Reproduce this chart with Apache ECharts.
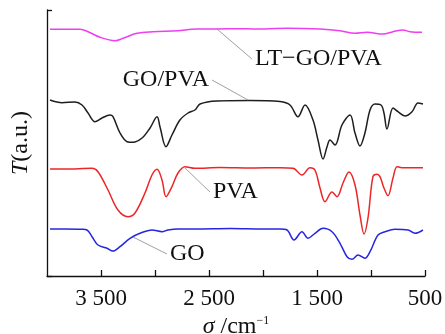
<!DOCTYPE html>
<html>
<head>
<meta charset="utf-8">
<script src="https://cdn.jsdelivr.net/npm/echarts@6/dist/echarts.min.js"></script>
<style>
  html, body { margin: 0; padding: 0; background: #fff; }
  #main { width: 445px; height: 334px; }
</style>
</head>
<body>
<div id="main"></div>
<script>
// wavenumber (cm-1), transmittance offset (a.u.)
const ltGoPva = [[3972,246.7],[3694,246.7],[3620,244.3],[3509,238.7],[3370,235.3],[3296,237.7],[3167,242.7],[3019,244.3],[2796,245.3],[2611,247],[2426,247],[2213,247.3],[2093,247],[1778,247.7],[1472,247],[1287,245.3],[1148,242.7],[1037,243.7],[889,242],[796,244.3],[704,246],[639,244.3],[528,243.7]];
const goPva = [[3972,176],[3861,173.3],[3741,174],[3676,171],[3620,163],[3556,154.3],[3491,158],[3417,161],[3389,159.3],[3324,143],[3259,134.3],[3204,133.7],[3120,138],[3046,148],[2981,159.3],[2954,149.3],[2898,129.3],[2843,141],[2769,156],[2694,163],[2630,166],[2583,172],[2426,175],[2120,175.5],[1843,174.5],[1750,171],[1676,159.3],[1611,171],[1537,156],[1491,136],[1444,117],[1407,129.3],[1380,136],[1333,131],[1269,151],[1194,161],[1148,143],[1102,130],[1056,143],[1009,166],[963,172],[907,171],[880,163],[852,147],[796,168],[750,164.3],[685,160],[620,164.3],[565,173],[519,172]];
const pva = [[3972,107],[3833,107],[3583,107.7],[3528,104.3],[3435,86],[3343,66],[3250,59.3],[3185,63],[3093,83],[3028,101],[2981,106.7],[2935,96],[2898,79.3],[2843,89.3],[2787,103],[2722,109.3],[2630,107.7],[2400,108.5],[2100,108],[1843,108.3],[1722,107.7],[1639,101],[1565,108.3],[1519,106],[1472,88],[1426,74.3],[1361,84],[1315,79.3],[1259,93],[1204,104],[1148,91],[1102,61],[1065,42],[1028,58],[982,99.3],[944,101.7],[917,99.3],[880,88],[843,80.3],[796,98],[759,109.3],[713,108.3],[519,108.3]];
const go = [[3972,47],[3833,47],[3676,46.7],[3630,46],[3583,39.3],[3528,31],[3444,27.7],[3389,25],[3324,29.3],[3231,37.7],[3139,42.7],[3028,46],[2935,44.3],[2880,46],[2787,47],[2630,47],[2300,47.5],[2000,47],[1843,47],[1778,46],[1713,36],[1639,44.3],[1583,37.7],[1519,42.7],[1444,47.7],[1361,44.3],[1287,32.7],[1222,19.3],[1176,16.7],[1120,21],[1056,17.7],[1009,24.3],[935,41],[870,44.3],[778,46.7],[657,46],[593,42.7],[519,46]];
const tickLabels = { 3500: '3 500', 2500: '2 500', 1500: '1 500', 500: '500' };

const serif = '"Liberation Serif", "DejaVu Serif", serif';

// leader line: from point on curve to label anchor
function note(name, from, to, align) {
  return {
    markLine: {
      silent: true,
      symbol: 'none',
      label: { show: false },
      lineStyle: { color: '#888', width: 0.8, type: 'solid' },
      data: [[{ coord: from }, { coord: to }]]
    },
    markPoint: {
      silent: true,
      symbol: 'circle',
      symbolSize: 0,
      data: [{ coord: to }],
      label: {
        show: true,
        formatter: name,
        position: align === 'right' ? 'left' : 'right',
        distance: 3,
        color: '#111',
        fontFamily: serif,
        fontSize: 24
      }
    }
  };
}

function line(name, data, color, extra) {
  return Object.assign({
    name: name,
    type: 'line',
    data: data,
    smooth: 0.35,
    showSymbol: false,
    lineStyle: { color: color, width: 1.5 },
    itemStyle: { color: color }
  }, extra);
}

const myChart = echarts.init(document.getElementById('main'), null, { renderer: 'canvas' });
myChart.setOption({
  animation: false,
  grid: { left: 47, right: 20, top: 10, bottom: 58, outerBoundsMode: 'none' },
  xAxis: {
    type: 'value',
    inverse: true,
    min: 500,
    max: 4000,
    interval: 500,
    name: '{i|σ} /cm{s|−1}',
    nameLocation: 'middle',
    nameGap: 33,
    nameTextStyle: {
      color: '#111',
      fontFamily: serif,
      fontSize: 24,
      rich: {
        i: { fontStyle: 'italic', fontFamily: serif, fontSize: 24 },
        s: { fontFamily: serif, fontSize: 12, verticalAlign: 'top', padding: [0, 0, 10, 0] }
      }
    },
    axisLine: { lineStyle: { color: '#111', width: 1.3 } },
    axisTick: { inside: true, length: 6, lineStyle: { color: '#111', width: 1.3 } },
    axisLabel: {
      color: '#111',
      fontFamily: serif,
      fontSize: 23,
      margin: 11,
      showMaxLabel: false,
      formatter: v => tickLabels[v] || ''
    },
    splitLine: { show: false }
  },
  yAxis: {
    type: 'value',
    min: 0,
    max: 266,
    interval: 266,
    name: '{i|T}(a.u.)',
    nameLocation: 'middle',
    nameGap: 14,
    nameTextStyle: {
      color: '#111',
      fontFamily: serif,
      fontSize: 24,
      rich: { i: { fontStyle: 'italic', fontFamily: serif, fontSize: 24 } }
    },
    axisLine: { show: true, lineStyle: { color: '#111', width: 1.3 } },
    axisTick: { show: true, inside: true, length: 5, lineStyle: { color: '#111', width: 1.3 } },
    axisLabel: { show: false },
    splitLine: { show: false }
  },
  series: [
    line('LT−GO/PVA', ltGoPva, '#ee3ff0', note('LT−GO/PVA', [2426, 247], [2102, 217], 'left')),
    line('GO/PVA', goPva, '#1e1e1e', note('GO/PVA', [2139, 176], [2472, 196], 'right')),
    line('PVA', pva, '#ec2626', note('PVA', [2722, 108], [2491, 84], 'left')),
    line('GO', go, '#2626e0', note('GO', [3204, 39], [2889, 22], 'left'))
  ]
});
</script>
</body>
</html>
